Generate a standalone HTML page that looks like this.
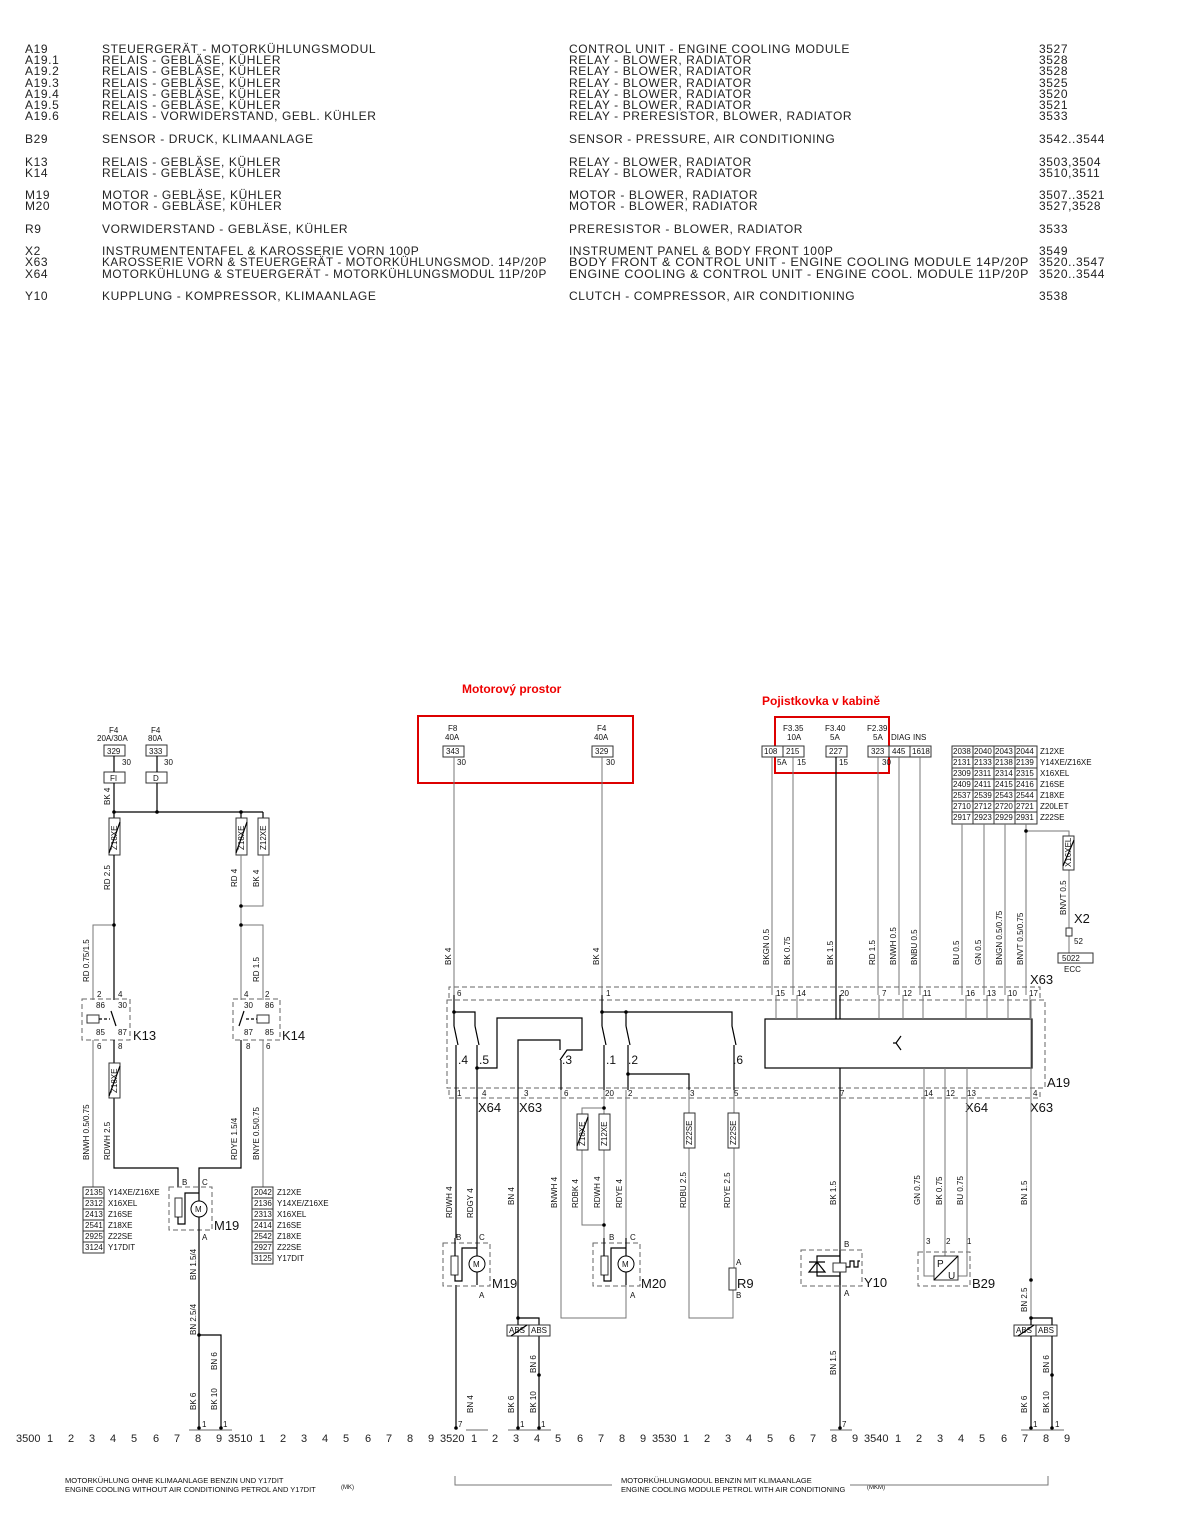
<!DOCTYPE html>
<html><head><meta charset="utf-8"><style>
html,body{margin:0;padding:0;background:#fff}
svg{display:block}
.t{font-family:"Liberation Sans",sans-serif;font-size:12px;fill:#222;letter-spacing:0.6px}
.s{font-family:"Liberation Sans",sans-serif;font-size:8px;fill:#111}
.m{font-family:"Liberation Sans",sans-serif;font-size:13px;fill:#111}
.n{font-family:"Liberation Sans",sans-serif;font-size:11px;fill:#222}
.k{stroke:#000;stroke-width:1.2;fill:none}
.g{stroke:#777;stroke-width:1;fill:none}
.d{stroke:#666;stroke-width:1;fill:none;stroke-dasharray:5,3}
.b{stroke:#333;stroke-width:1;fill:#fff}
</style></head><body>
<svg width="1183" height="1527" viewBox="0 0 1183 1527" xmlns="http://www.w3.org/2000/svg">
<!-- legend -->
<g class="t">
<text x="25" y="53">A19</text><text x="102" y="53">STEUERGERÄT - MOTORKÜHLUNGSMODUL</text><text x="569" y="53">CONTROL UNIT - ENGINE COOLING MODULE</text><text x="1039" y="53">3527</text>
<text x="25" y="64">A19.1</text><text x="102" y="64">RELAIS - GEBLÄSE, KÜHLER</text><text x="569" y="64">RELAY - BLOWER, RADIATOR</text><text x="1039" y="64">3528</text>
<text x="25" y="75">A19.2</text><text x="102" y="75">RELAIS - GEBLÄSE, KÜHLER</text><text x="569" y="75">RELAY - BLOWER, RADIATOR</text><text x="1039" y="75">3528</text>
<text x="25" y="87">A19.3</text><text x="102" y="87">RELAIS - GEBLÄSE, KÜHLER</text><text x="569" y="87">RELAY - BLOWER, RADIATOR</text><text x="1039" y="87">3525</text>
<text x="25" y="98">A19.4</text><text x="102" y="98">RELAIS - GEBLÄSE, KÜHLER</text><text x="569" y="98">RELAY - BLOWER, RADIATOR</text><text x="1039" y="98">3520</text>
<text x="25" y="109">A19.5</text><text x="102" y="109">RELAIS - GEBLÄSE, KÜHLER</text><text x="569" y="109">RELAY - BLOWER, RADIATOR</text><text x="1039" y="109">3521</text>
<text x="25" y="120">A19.6</text><text x="102" y="120">RELAIS - VORWIDERSTAND, GEBL. KÜHLER</text><text x="569" y="120">RELAY - PRERESISTOR, BLOWER, RADIATOR</text><text x="1039" y="120">3533</text>
<text x="25" y="143">B29</text><text x="102" y="143">SENSOR - DRUCK, KLIMAANLAGE</text><text x="569" y="143">SENSOR - PRESSURE, AIR CONDITIONING</text><text x="1039" y="143">3542..3544</text>
<text x="25" y="166">K13</text><text x="102" y="166">RELAIS - GEBLÄSE, KÜHLER</text><text x="569" y="166">RELAY - BLOWER, RADIATOR</text><text x="1039" y="166">3503,3504</text>
<text x="25" y="177">K14</text><text x="102" y="177">RELAIS - GEBLÄSE, KÜHLER</text><text x="569" y="177">RELAY - BLOWER, RADIATOR</text><text x="1039" y="177">3510,3511</text>
<text x="25" y="199">M19</text><text x="102" y="199">MOTOR - GEBLÄSE, KÜHLER</text><text x="569" y="199">MOTOR - BLOWER, RADIATOR</text><text x="1039" y="199">3507..3521</text>
<text x="25" y="210">M20</text><text x="102" y="210">MOTOR - GEBLÄSE, KÜHLER</text><text x="569" y="210">MOTOR - BLOWER, RADIATOR</text><text x="1039" y="210">3527,3528</text>
<text x="25" y="233">R9</text><text x="102" y="233">VORWIDERSTAND - GEBLÄSE, KÜHLER</text><text x="569" y="233">PRERESISTOR - BLOWER, RADIATOR</text><text x="1039" y="233">3533</text>
<text x="25" y="255">X2</text><text x="102" y="255">INSTRUMENTENTAFEL &amp; KAROSSERIE VORN 100P</text><text x="569" y="255">INSTRUMENT PANEL &amp; BODY FRONT 100P</text><text x="1039" y="255">3549</text>
<text x="25" y="266">X63</text><text x="102" y="266" textLength="445" lengthAdjust="spacingAndGlyphs">KAROSSERIE VORN &amp; STEUERGERÄT - MOTORKÜHLUNGSMOD. 14P/20P</text><text x="569" y="266" textLength="460" lengthAdjust="spacingAndGlyphs">BODY FRONT &amp; CONTROL UNIT - ENGINE COOLING MODULE 14P/20P</text><text x="1039" y="266">3520..3547</text>
<text x="25" y="278">X64</text><text x="102" y="278" textLength="445" lengthAdjust="spacingAndGlyphs">MOTORKÜHLUNG &amp; STEUERGERÄT - MOTORKÜHLUNGSMODUL 11P/20P</text><text x="569" y="278" textLength="460" lengthAdjust="spacingAndGlyphs">ENGINE COOLING &amp; CONTROL UNIT - ENGINE COOL. MODULE 11P/20P</text><text x="1039" y="278">3520..3544</text>
<text x="25" y="300">Y10</text><text x="102" y="300">KUPPLUNG - KOMPRESSOR, KLIMAANLAGE</text><text x="569" y="300">CLUTCH - COMPRESSOR, AIR CONDITIONING</text><text x="1039" y="300">3538</text>
</g>

<!-- red annotations -->
<text x="462" y="693" style="font-family:'Liberation Sans',sans-serif;font-size:12px;font-weight:bold;fill:#e00">Motorový prostor</text>
<text x="762" y="705" style="font-family:'Liberation Sans',sans-serif;font-size:12px;font-weight:bold;fill:#e00">Pojistkovka v kabině</text>
<rect x="418" y="716" width="215" height="67" fill="none" stroke="#d00" stroke-width="2"/>
<rect x="775" y="717" width="114" height="56" fill="none" stroke="#d00" stroke-width="2"/>

<!-- ===== LEFT SECTION ===== -->
<g class="s">
<text x="109" y="733">F4</text><text x="97" y="741">20A/30A</text>
<text x="151" y="733">F4</text><text x="148" y="741">80A</text>
<text x="122" y="765">30</text><text x="164" y="765">30</text>
</g>
<rect class="b" x="104" y="745" width="21" height="11"/><text class="s" x="107" y="754">329</text>
<rect class="b" x="146" y="745" width="21" height="11"/><text class="s" x="149" y="754">333</text>
<rect class="b" x="104" y="772" width="21" height="11"/><text class="s" x="110" y="781">FI</text>
<rect class="b" x="146" y="772" width="21" height="11"/><text class="s" x="153" y="781">D</text>
<path class="k" d="M114 756V772M114 783V818M157 756V772M157 783V812M114 812H263"/>
<circle cx="114" cy="812" r="1.8"/><circle cx="157" cy="812" r="1.8"/><circle cx="241" cy="812" r="1.8"/>
<path class="k" d="M241 812V818M263 812V818"/>
<rect class="b" x="109" y="818" width="11" height="37"/><rect class="b" x="236" y="818" width="11" height="37"/><rect class="b" x="258" y="818" width="11" height="37"/>
<g class="s"><text transform="translate(117,850) rotate(-90)">Z18XE</text><text transform="translate(244,850) rotate(-90)">Z18XE</text><text transform="translate(266,850) rotate(-90)">Z12XE</text>
<text transform="translate(110,805) rotate(-90)">BK 4</text>
<text transform="translate(110,890) rotate(-90)">RD 2.5</text>
<text transform="translate(237,887) rotate(-90)">RD 4</text>
<text transform="translate(259,887) rotate(-90)">BK 4</text>
<text transform="translate(89,982) rotate(-90)">RD 0.75/1.5</text>
<text transform="translate(259,982) rotate(-90)">RD 1.5</text>
<text transform="translate(89,1160) rotate(-90)">BNWH 0.5/0.75</text>
<text transform="translate(110,1160) rotate(-90)">RDWH 2.5</text>
<text transform="translate(237,1160) rotate(-90)">RDYE 1.5/4</text>
<text transform="translate(259,1160) rotate(-90)">BNYE 0.5/0.75</text>
<text transform="translate(196,1280) rotate(-90)">BN 1.5/4</text>
<text transform="translate(196,1335) rotate(-90)">BN 2.5/4</text>
<text transform="translate(217,1370) rotate(-90)">BN 6</text>
<text transform="translate(196,1410) rotate(-90)">BK 6</text>
<text transform="translate(217,1410) rotate(-90)">BK 10</text>
</g>
<path class="k" d="M109 853L120 822M236 853L247 822"/>
<path class="k" d="M114 855V1000"/>
<path class="g" d="M263 855V906H241M241 855V1000M114 925H93V1000M241 925H263V1000"/>
<circle cx="114" cy="925" r="1.8"/><circle cx="241" cy="906" r="1.8"/><circle cx="241" cy="925" r="1.8"/>
<!-- K13 -->
<rect class="d" x="82" y="999" width="48" height="41"/>
<g class="s"><text x="97" y="997">2</text><text x="118" y="997">4</text><text x="96" y="1008">86</text><text x="118" y="1008">30</text><text x="96" y="1035">85</text><text x="118" y="1035">87</text><text x="97" y="1049">6</text><text x="118" y="1049">8</text>
<text x="244" y="997">4</text><text x="265" y="997">2</text><text x="244" y="1008">30</text><text x="265" y="1008">86</text><text x="244" y="1035">87</text><text x="265" y="1035">85</text><text x="246" y="1049">8</text><text x="266" y="1049">6</text></g>
<text class="m" x="133" y="1040">K13</text>
<rect class="b" x="87" y="1015" width="12" height="8"/><path class="k" d="M99 1019H110" stroke-dasharray="3,2"/><path class="k" d="M111 1011L116 1026"/>
<rect class="d" x="233" y="999" width="47" height="41"/>
<text class="m" x="282" y="1040">K14</text>
<rect class="b" x="257" y="1015" width="12" height="8"/><path class="k" d="M246 1019H257" stroke-dasharray="3,2"/><path class="k" d="M244 1011L239 1026"/>
<path class="g" d="M93 1040V1187M263 1040V1187"/>
<path class="k" d="M114 1040V1063M114 1098V1168H178V1187M241 1040V1168H199V1187"/>
<rect class="b" x="109" y="1063" width="11" height="35"/><text class="s" transform="translate(117,1093) rotate(-90)">Z18XE</text><path class="k" d="M109 1096L120 1066"/>
<!-- tables -->
<g class="s">
<rect class="b" x="83" y="1187" width="21" height="11"/><text x="85" y="1195">2135</text><text x="108" y="1195">Y14XE/Z16XE</text>
<rect class="b" x="83" y="1198" width="21" height="11"/><text x="85" y="1206">2312</text><text x="108" y="1206">X16XEL</text>
<rect class="b" x="83" y="1209" width="21" height="11"/><text x="85" y="1217">2413</text><text x="108" y="1217">Z16SE</text>
<rect class="b" x="83" y="1220" width="21" height="11"/><text x="85" y="1228">2541</text><text x="108" y="1228">Z18XE</text>
<rect class="b" x="83" y="1231" width="21" height="11"/><text x="85" y="1239">2925</text><text x="108" y="1239">Z22SE</text>
<rect class="b" x="83" y="1242" width="21" height="11"/><text x="85" y="1250">3124</text><text x="108" y="1250">Y17DIT</text>
<rect class="b" x="252" y="1187" width="21" height="11"/><text x="254" y="1195">2042</text><text x="277" y="1195">Z12XE</text>
<rect class="b" x="252" y="1198" width="21" height="11"/><text x="254" y="1206">2136</text><text x="277" y="1206">Y14XE/Z16XE</text>
<rect class="b" x="252" y="1209" width="21" height="11"/><text x="254" y="1217">2313</text><text x="277" y="1217">X16XEL</text>
<rect class="b" x="252" y="1220" width="21" height="11"/><text x="254" y="1228">2414</text><text x="277" y="1228">Z16SE</text>
<rect class="b" x="252" y="1231" width="21" height="11"/><text x="254" y="1239">2542</text><text x="277" y="1239">Z18XE</text>
<rect class="b" x="252" y="1242" width="21" height="11"/><text x="254" y="1250">2927</text><text x="277" y="1250">Z22SE</text>
<rect class="b" x="252" y="1253" width="21" height="11"/><text x="254" y="1261">3125</text><text x="277" y="1261">Y17DIT</text>
<text x="182" y="1185">B</text><text x="202" y="1185">C</text><text x="202" y="1240">A</text>
</g>
<!-- M19 left -->
<rect class="d" x="169" y="1187" width="43" height="43"/>
<rect class="b" x="175" y="1198" width="7" height="19"/>
<path class="k" d="M178 1217V1224H185V1193H199"/>
<circle cx="199" cy="1209" r="8" fill="#fff" stroke="#000"/><text class="s" x="195" y="1212">M</text>
<path class="k" d="M199 1187V1201M199 1217V1428M199 1335H221V1428"/>
<circle cx="199" cy="1335" r="1.8"/>
<text class="m" x="214" y="1230">M19</text>

<!-- ===== MIDDLE/RIGHT SECTION ===== -->
<g class="s">
<text x="448" y="731">F8</text><text x="445" y="740">40A</text>
<text x="597" y="731">F4</text><text x="594" y="740">40A</text>
<text x="457" y="765">30</text><text x="606" y="765">30</text>
<text x="783" y="731">F3.35</text><text x="787" y="740">10A</text>
<text x="825" y="731">F3.40</text><text x="830" y="740">5A</text>
<text x="867" y="731">F2.39</text><text x="873" y="740">5A</text>
<text x="891" y="740">DIAG</text><text x="913" y="740">INS</text>
<text x="777" y="765">5A</text><text x="797" y="765">15</text><text x="839" y="765">15</text><text x="882" y="765">30</text>
</g>
<rect class="b" x="443" y="746" width="21" height="11"/><text class="s" x="446" y="754">343</text>
<rect class="b" x="592" y="746" width="21" height="11"/><text class="s" x="595" y="754">329</text>
<rect class="b" x="762" y="746" width="21" height="11"/><text class="s" x="764" y="754">108</text>
<rect class="b" x="783" y="746" width="21" height="11"/><text class="s" x="786" y="754">215</text>
<rect class="b" x="826" y="746" width="21" height="11"/><text class="s" x="829" y="754">227</text>
<rect class="b" x="868" y="746" width="21" height="11"/><text class="s" x="871" y="754">323</text>
<rect class="b" x="889" y="746" width="21" height="11"/><text class="s" x="892" y="754">445</text>
<rect class="b" x="910" y="746" width="21" height="11"/><text class="s" x="912" y="754">1618</text>
<!-- option table -->
<g class="s">
<rect class="b" x="952" y="746" width="85" height="78"/>
<path class="b" d="M973 746V824M994 746V824M1015 746V824M952 757H1037M952 768H1037M952 779H1037M952 790H1037M952 801H1037M952 812H1037"/>
<text x="953" y="754">2038</text><text x="974" y="754">2040</text><text x="995" y="754">2043</text><text x="1016" y="754">2044</text><text x="1040" y="754">Z12XE</text>
<text x="953" y="765">2131</text><text x="974" y="765">2133</text><text x="995" y="765">2138</text><text x="1016" y="765">2139</text><text x="1040" y="765">Y14XE/Z16XE</text>
<text x="953" y="776">2309</text><text x="974" y="776">2311</text><text x="995" y="776">2314</text><text x="1016" y="776">2315</text><text x="1040" y="776">X16XEL</text>
<text x="953" y="787">2409</text><text x="974" y="787">2411</text><text x="995" y="787">2415</text><text x="1016" y="787">2416</text><text x="1040" y="787">Z16SE</text>
<text x="953" y="798">2537</text><text x="974" y="798">2539</text><text x="995" y="798">2543</text><text x="1016" y="798">2544</text><text x="1040" y="798">Z18XE</text>
<text x="953" y="809">2710</text><text x="974" y="809">2712</text><text x="995" y="809">2720</text><text x="1016" y="809">2721</text><text x="1040" y="809">Z20LET</text>
<text x="953" y="820">2917</text><text x="974" y="820">2923</text><text x="995" y="820">2929</text><text x="1016" y="820">2931</text><text x="1040" y="820">Z22SE</text>
</g>
<path class="g" d="M454 757V995M602 757V995M772 757V995M793 757V995M878 757V995M899 757V995M920 757V995M962 824V995M984 824V995M1005 824V995M1026 824V995M1026 831H1069V836M1069 870V928M1069 936V953"/>
<path class="k" d="M836 757V1019"/>
<circle cx="1026" cy="831" r="1.8"/>
<rect class="b" x="1063" y="836" width="11" height="34"/><text class="s" transform="translate(1071,867) rotate(-90)">X16XEL</text><path class="k" d="M1063 866L1074 840"/>
<rect class="b" x="1066" y="928" width="6" height="8"/>
<text class="m" x="1074" y="923">X2</text><text class="s" x="1074" y="944">52</text>
<rect class="b" x="1058" y="953" width="35" height="10"/><text class="s" x="1062" y="961">5022</text><text class="s" x="1064" y="972">ECC</text>
<g class="s">
<text transform="translate(451,965) rotate(-90)">BK 4</text><text transform="translate(599,965) rotate(-90)">BK 4</text>
<text transform="translate(769,965) rotate(-90)">BKGN 0.5</text><text transform="translate(790,965) rotate(-90)">BK 0.75</text>
<text transform="translate(833,965) rotate(-90)">BK 1.5</text><text transform="translate(875,965) rotate(-90)">RD 1.5</text>
<text transform="translate(896,965) rotate(-90)">BNWH 0.5</text><text transform="translate(917,965) rotate(-90)">BNBU 0.5</text>
<text transform="translate(959,965) rotate(-90)">BU 0.5</text><text transform="translate(981,965) rotate(-90)">GN 0.5</text>
<text transform="translate(1002,965) rotate(-90)">BNGN 0.5/0.75</text><text transform="translate(1023,965) rotate(-90)">BNVT 0.5/0.75</text>
<text transform="translate(1066,915) rotate(-90)">BNVT 0.5</text>
</g>
<text class="m" x="1030" y="984">X63</text>
<!-- connector strips -->
<path class="d" d="M449 998V987H1040V998"/>
<rect class="d" x="447" y="1000" width="598" height="88"/>
<path class="d" d="M449 1090V1098H1040V1090"/>
<g class="s">
<text x="457" y="996">6</text><text x="606" y="996">1</text><text x="776" y="996">15</text><text x="797" y="996">14</text><text x="840" y="996">20</text><text x="882" y="996">7</text><text x="903" y="996">12</text><text x="923" y="996">11</text><text x="966" y="996">16</text><text x="987" y="996">13</text><text x="1008" y="996">10</text><text x="1029" y="996">17</text>
<text x="457" y="1096">1</text><text x="482" y="1096">4</text><text x="524" y="1096">3</text><text x="564" y="1096">6</text><text x="605" y="1096">20</text><text x="628" y="1096">2</text><text x="690" y="1096">3</text><text x="734" y="1096">5</text><text x="840" y="1096">7</text><text x="924" y="1096">14</text><text x="946" y="1096">12</text><text x="967" y="1096">13</text><text x="1033" y="1096">4</text>
</g>
<text class="m" x="1047" y="1087">A19</text>
<text class="m" x="478" y="1112">X64</text><text class="m" x="519" y="1112">X63</text><text class="m" x="965" y="1112">X64</text><text class="m" x="1030" y="1112">X63</text>
<!-- relays inside A19 -->
<path class="k" d="M454 995V1012M454 1012H475V1026M454 1012V1026M454 1026L458 1045M475 1026L479 1045M477 1045V1068H497V1018H582V1050H567L560 1060"/>
<path class="k" d="M518 1238V1040H560V1050"/>
<path class="k" d="M602 995V1012H626V1026M602 1012V1026M602 1026L606 1045M626 1026L630 1045M626 1012H732V1026L736 1045"/>
<path class="k" d="M456 1045V1090M477 1068V1090M561 1060V1090M604 1045V1090M628 1045V1090M628 1074H689V1090M734 1045V1090"/>
<circle cx="454" cy="1012" r="1.8"/><circle cx="602" cy="1012" r="1.8"/><circle cx="626" cy="1012" r="1.8"/><circle cx="477" cy="1068" r="1.8"/><circle cx="628" cy="1074" r="1.8"/>
<g class="m" style="font-size:12px"><text x="458" y="1064">.4</text><text x="479" y="1064">.5</text><text x="562" y="1064">.3</text><text x="606" y="1064">.1</text><text x="628" y="1064">.2</text><text x="733" y="1064">.6</text></g>
<rect x="765" y="1019" width="267" height="49" fill="#fff" stroke="#000" stroke-width="1.2"/>
<path class="k" d="M901 1036L896 1043L901 1050M896 1043H893"/>
<path class="g" d="M776 995V1019M797 995V1019M879 995V1019M903 995V1019M923 995V1019M966 995V1019M987 995V1019M1008 995V1019M1030 995V1019"/>
<path class="k" d="M840 995V1019M840 1068V1428"/>
<path class="g" d="M924 1068V1240M945 1068V1240M967 1068V1240M1031 1000V1428"/>
<!-- below -->
<path class="k" d="M456 1090V1238M456 1285V1428M477 1090V1238"/>
<path class="k" d="M518 1238V1325M518 1336V1428M518 1318H539V1325M539 1336V1428"/>
<circle cx="518" cy="1318" r="1.8"/><circle cx="539" cy="1375" r="1.8"/>
<path class="g" d="M561 1090V1318H626V1285M604 1090V1108H582V1114M604 1108V1114M582 1150V1225H604V1238M604 1150V1225M626 1090V1238"/>
<circle cx="604" cy="1108" r="1.8"/><circle cx="604" cy="1225" r="1.8"/>
<rect class="b" x="577" y="1114" width="11" height="36"/><text class="s" transform="translate(585,1146) rotate(-90)">Z18XE</text><path class="k" d="M577 1146L588 1117"/>
<rect class="b" x="599" y="1114" width="11" height="36"/><text class="s" transform="translate(607,1146) rotate(-90)">Z12XE</text>
<path class="g" d="M689 1090V1113M689 1148V1318H733V1290M734 1090V1113M734 1148V1268"/>
<rect class="b" x="684" y="1113" width="11" height="35"/><text class="s" transform="translate(692,1145) rotate(-90)">Z22SE</text>
<rect class="b" x="728" y="1113" width="11" height="35"/><text class="s" transform="translate(736,1145) rotate(-90)">Z22SE</text>
<rect class="b" x="729" y="1268" width="7" height="22"/>
<text class="m" x="737" y="1288">R9</text>
<g class="s"><text x="736" y="1265">A</text><text x="736" y="1298">B</text>
<text x="456" y="1240">B</text><text x="479" y="1240">C</text><text x="479" y="1298">A</text>
<text x="609" y="1240">B</text><text x="630" y="1240">C</text><text x="630" y="1298">A</text>
<text x="844" y="1247">B</text><text x="844" y="1296">A</text>
<text x="926" y="1244">3</text><text x="946" y="1244">2</text><text x="967" y="1244">1</text>
<text x="458" y="1427">7</text><text x="842" y="1427">7</text>
<text x="520" y="1427">1</text><text x="541" y="1427">1</text><text x="1033" y="1427">1</text><text x="1055" y="1427">1</text>
<text x="202" y="1427">1</text><text x="223" y="1427">1</text>
</g>
<!-- M19 right -->
<rect class="d" x="443" y="1243" width="47" height="43"/>
<rect class="b" x="451" y="1256" width="7" height="19"/>
<path class="k" d="M455 1238V1256M455 1275V1281H462V1248H477"/>
<circle cx="477" cy="1264" r="8" fill="#fff" stroke="#000"/><text class="s" x="473" y="1267">M</text>
<path class="k" d="M477 1238V1256M477 1272V1285"/>
<text class="m" x="492" y="1288">M19</text>
<!-- M20 -->
<rect class="d" x="593" y="1243" width="47" height="43"/>
<rect class="b" x="601" y="1256" width="7" height="19"/>
<path class="k" d="M604 1238V1256M604 1275V1281H611V1248H626"/>
<circle cx="626" cy="1264" r="8" fill="#fff" stroke="#000"/><text class="s" x="622" y="1267">M</text>
<path class="k" d="M626 1238V1256M626 1272V1285"/>
<text class="m" x="641" y="1288">M20</text>
<!-- Y10 -->
<rect class="d" x="801" y="1250" width="61" height="36"/>
<path class="k" d="M840 1250V1285M840 1256H817V1276H840"/>
<path class="k" d="M809 1272H825L817 1262Z M809 1262H825"/>
<rect class="b" x="833" y="1263" width="13" height="9"/>
<path class="k" d="M846 1267H850V1261H854V1267H858V1261H860"/>
<text class="m" x="864" y="1287">Y10</text>
<!-- B29 -->
<rect class="d" x="918" y="1252" width="52" height="34"/>
<path class="g" d="M924 1240V1276H934M967 1240V1276H957M945 1240V1256"/>
<rect class="b" x="934" y="1256" width="24" height="24"/>
<path class="k" d="M934 1280L958 1256"/>
<text class="s" x="937" y="1267" style="font-size:10px">P</text><text class="s" x="948" y="1279" style="font-size:10px">U</text>
<text class="m" x="972" y="1288">B29</text>
<!-- ABS -->
<rect class="b" x="507" y="1325" width="22" height="11"/><rect class="b" x="529" y="1325" width="21" height="11"/>
<text class="s" x="509" y="1333">ABS</text><text class="s" x="531" y="1333">ABS</text><path class="k" d="M511 1336L527 1325"/>
<rect class="b" x="1014" y="1325" width="22" height="11"/><rect class="b" x="1036" y="1325" width="21" height="11"/>
<text class="s" x="1016" y="1333">ABS</text><text class="s" x="1038" y="1333">ABS</text><path class="k" d="M1018 1336L1034 1325"/>
<path class="k" d="M1031 1325V1318H1052V1325M1031 1336V1428M1052 1336V1428"/>
<circle cx="1031" cy="1318" r="1.8"/><circle cx="1052" cy="1375" r="1.8"/><circle cx="1031" cy="1280" r="1.8"/>
<g class="s">
<text transform="translate(452,1218) rotate(-90)">RDWH 4</text><text transform="translate(473,1218) rotate(-90)">RDGY 4</text>
<text transform="translate(514,1205) rotate(-90)">BN 4</text><text transform="translate(557,1208) rotate(-90)">BNWH 4</text>
<text transform="translate(578,1208) rotate(-90)">RDBK 4</text><text transform="translate(600,1208) rotate(-90)">RDWH 4</text><text transform="translate(622,1208) rotate(-90)">RDYE 4</text>
<text transform="translate(686,1208) rotate(-90)">RDBU 2.5</text><text transform="translate(730,1208) rotate(-90)">RDYE 2.5</text>
<text transform="translate(836,1205) rotate(-90)">BK 1.5</text><text transform="translate(920,1205) rotate(-90)">GN 0.75</text>
<text transform="translate(942,1205) rotate(-90)">BK 0.75</text><text transform="translate(963,1205) rotate(-90)">BU 0.75</text>
<text transform="translate(1027,1205) rotate(-90)">BN 1.5</text><text transform="translate(1027,1312) rotate(-90)">BN 2.5</text>
<text transform="translate(536,1373) rotate(-90)">BN 6</text><text transform="translate(1049,1373) rotate(-90)">BN 6</text>
<text transform="translate(836,1375) rotate(-90)">BN 1.5</text>
<text transform="translate(473,1413) rotate(-90)">BN 4</text>
<text transform="translate(514,1413) rotate(-90)">BK 6</text><text transform="translate(536,1413) rotate(-90)">BK 10</text>
<text transform="translate(1027,1413) rotate(-90)">BK 6</text><text transform="translate(1049,1413) rotate(-90)">BK 10</text>
</g>
<!-- ground bars -->
<path class="k" d="M189 1430H232M466 1430H488M508 1430H551M830 1430H852M1021 1430H1064" style="stroke:#888"/>
<circle cx="199" cy="1428" r="1.8"/><circle cx="221" cy="1428" r="1.8"/><circle cx="456" cy="1428" r="1.8"/><circle cx="518" cy="1428" r="1.8"/><circle cx="539" cy="1428" r="1.8"/><circle cx="840" cy="1428" r="1.8"/><circle cx="1031" cy="1428" r="1.8"/><circle cx="1052" cy="1428" r="1.8"/>
<!-- axis -->
<g class="n">
<text x="16" y="1442">3500</text><text x="228" y="1442">3510</text><text x="440" y="1442">3520</text><text x="652" y="1442">3530</text><text x="864" y="1442">3540</text>
<text x="47" y="1442">1</text><text x="68" y="1442">2</text><text x="89" y="1442">3</text><text x="110" y="1442">4</text><text x="131" y="1442">5</text><text x="153" y="1442">6</text><text x="174" y="1442">7</text><text x="195" y="1442">8</text><text x="216" y="1442">9</text>
<text x="259" y="1442">1</text><text x="280" y="1442">2</text><text x="301" y="1442">3</text><text x="322" y="1442">4</text><text x="343" y="1442">5</text><text x="365" y="1442">6</text><text x="386" y="1442">7</text><text x="407" y="1442">8</text><text x="428" y="1442">9</text>
<text x="471" y="1442">1</text><text x="492" y="1442">2</text><text x="513" y="1442">3</text><text x="534" y="1442">4</text><text x="555" y="1442">5</text><text x="577" y="1442">6</text><text x="598" y="1442">7</text><text x="619" y="1442">8</text><text x="640" y="1442">9</text>
<text x="683" y="1442">1</text><text x="704" y="1442">2</text><text x="725" y="1442">3</text><text x="746" y="1442">4</text><text x="767" y="1442">5</text><text x="789" y="1442">6</text><text x="810" y="1442">7</text><text x="831" y="1442">8</text><text x="852" y="1442">9</text>
<text x="895" y="1442">1</text><text x="916" y="1442">2</text><text x="937" y="1442">3</text><text x="958" y="1442">4</text><text x="979" y="1442">5</text><text x="1001" y="1442">6</text><text x="1022" y="1442">7</text><text x="1043" y="1442">8</text><text x="1064" y="1442">9</text>
</g>
<g class="s" style="font-size:7.5px">
<text x="65" y="1483">MOTORKÜHLUNG OHNE KLIMAANLAGE BENZIN UND Y17DIT</text>
<text x="65" y="1492">ENGINE COOLING WITHOUT AIR CONDITIONING PETROL AND Y17DIT</text>
<text x="341" y="1489" style="font-size:6px">(MK)</text>
<text x="621" y="1483">MOTORKÜHLUNGMODUL BENZIN MIT KLIMAANLAGE</text>
<text x="621" y="1492">ENGINE COOLING MODULE PETROL WITH AIR CONDITIONING</text>
<text x="867" y="1489" style="font-size:6px">(MKM)</text>
</g>
<path class="g" d="M455 1476V1485H612M850 1485H1048V1476"/>
</svg>
</body></html>
